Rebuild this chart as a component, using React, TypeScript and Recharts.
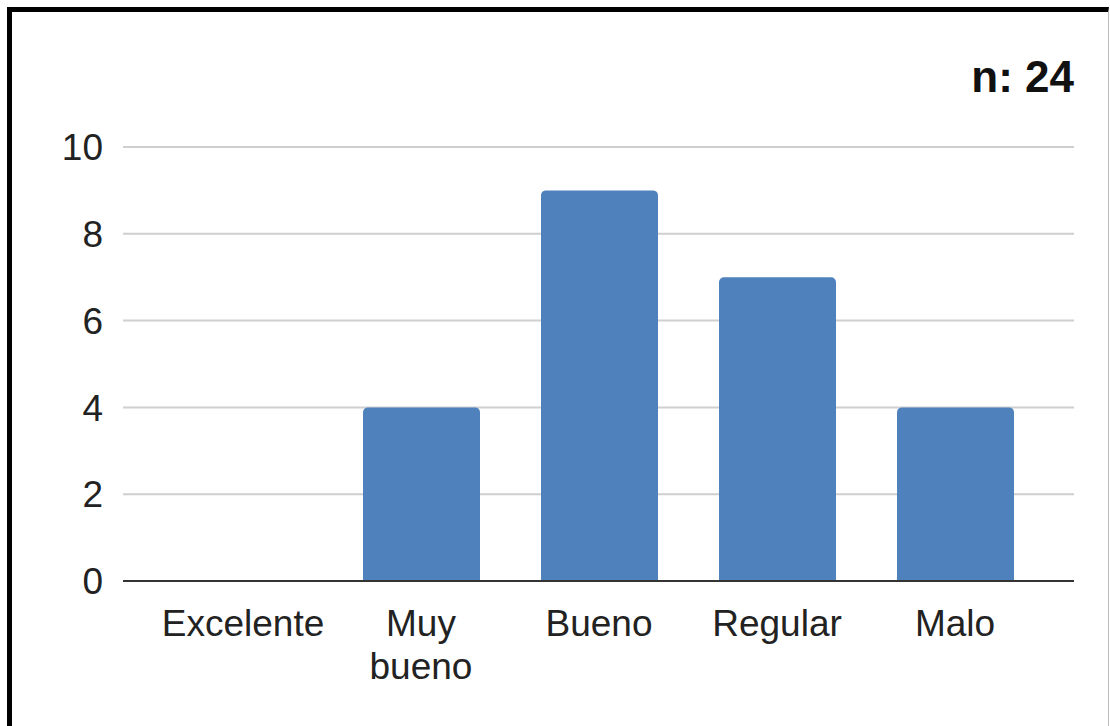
import { BarChart, Bar, XAxis, YAxis, CartesianGrid } from 'recharts';

const categories = ['Excelente', 'Muy bueno', 'Bueno', 'Regular', 'Malo'];
const counts = [0, 4, 9, 7, 4];
const yTicks = [0, 2, 4, 6, 8, 10];
const sampleLabel = 'n: 24';

const FONT = '"Liberation Sans", Arial, sans-serif';

const data = categories.map((name, i) => ({ name, count: counts[i] }));

// one word per line, so only "Muy bueno" goes onto two lines
function CategoryTick({ x, y, payload }: any) {
  const words = String(payload.value).split(' ');
  return (
    <text x={x} y={y} textAnchor="middle" fill="#222" fontSize={37} fontFamily={FONT}>
      {words.map((w, i) => (
        <tspan key={i} x={x} dy={i === 0 ? 26 : 43}>
          {w}
        </tspan>
      ))}
    </text>
  );
}

export default function App() {
  return (
    <div style={{ position: 'fixed', left: 0, top: 0, width: 1110, height: 726, background: '#fff', overflow: 'hidden' }}>
      <div
        style={{
          position: 'absolute',
          left: 7,
          top: 7,
          width: 1096,
          height: 760,
          borderLeft: '5px solid #000',
          borderTop: '5px solid #000',
          borderRight: '1px solid #bbb',
        }}
      />
      <div
        style={{
          position: 'absolute',
          right: 36,
          top: 55,
          fontFamily: FONT,
          fontWeight: 'bold',
          fontSize: 44,
          lineHeight: 1,
          color: '#111',
        }}
      >
        {sampleLabel}
      </div>
      <div style={{ position: 'absolute', left: 0, top: 0 }}>
        <BarChart
          width={1110}
          height={726}
          data={data}
          margin={{ top: 147, right: 36, bottom: 0, left: 0 }}
        >
          <CartesianGrid horizontal vertical={false} stroke="#cfcfcf" strokeWidth={2} />
          <XAxis
            dataKey="name"
            height={145}
            padding={{ left: 31, right: 30 }}
            axisLine={{ stroke: '#333', strokeWidth: 2 }}
            tickLine={false}
            tickSize={0}
            tickMargin={29}
            interval={0}
            tick={(props: any) => <CategoryTick {...props} />}
          />
          <YAxis
            width={123}
            domain={[0, 10]}
            ticks={yTicks}
            axisLine={false}
            tickLine={false}
            tickSize={0}
            tickMargin={20}
            tick={{ fill: '#222', fontSize: 37, fontFamily: FONT }}
          />
          <Bar dataKey="count" fill="#4f81bd" barSize={117} radius={[5, 5, 0, 0]} isAnimationActive={false} />
        </BarChart>
      </div>
    </div>
  );
}
